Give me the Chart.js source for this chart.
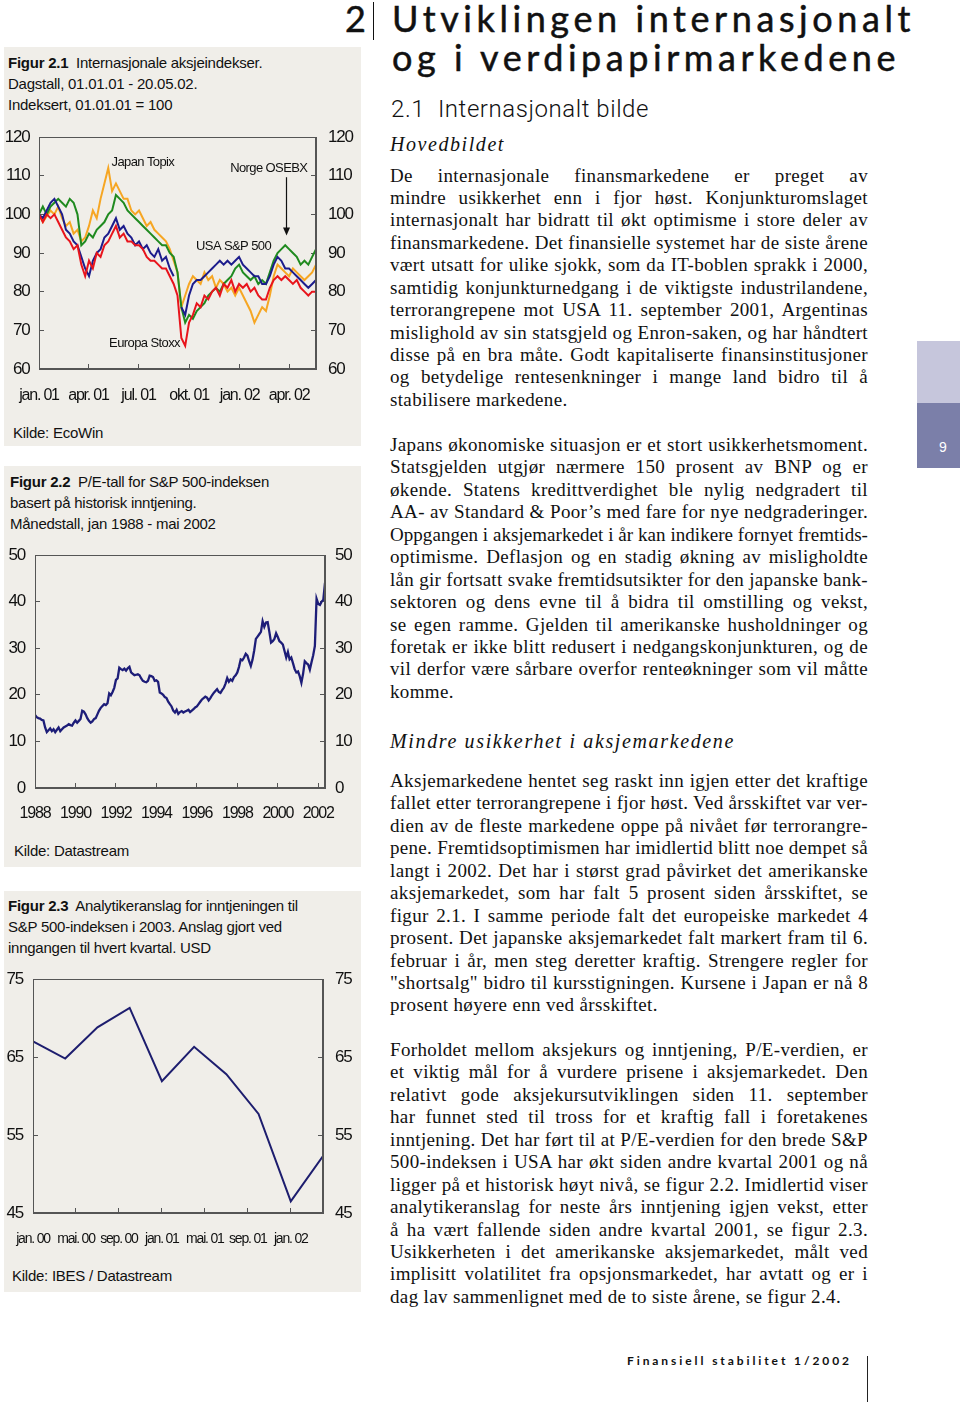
<!DOCTYPE html>
<html>
<head>
<meta charset="utf-8">
<script src="https://cdn.jsdelivr.net/npm/chart.js@4.4.1/dist/chart.umd.min.js"></script>
<style>
  body { margin: 0; background: #fff; }
  #page { position: relative; width: 960px; height: 1402px; overflow: hidden; background: #fff; }
  .panel { position: absolute; left: 4px; width: 357px; background: #f0eee9; }
  .cap { position: absolute; left: 8px; font: 15px 'Liberation Sans', Arial, sans-serif; letter-spacing: -0.25px; line-height: 21px; color: #111; white-space: nowrap; }
  canvas { position: absolute; left: 0; }
  .body { position: absolute; left: 390px; width: 478px; font: 19px 'Liberation Serif', serif; line-height: 22.45px; color: #111; }
  .body div { height: 22.45px; text-align: justify; text-align-last: justify; letter-spacing: 0.35px; }
  .body div.l { text-align: left; text-align-last: left; }
  .fit { position: absolute; white-space: nowrap; color: #111; }
  .big { font: 36px Lato, sans-serif; line-height: 36px; -webkit-text-stroke: 0.5px #111; }
</style>
</head>
<body>
<div id="page">

  <div class="fit big" style="left:345px;top:0px">2</div>
  <div style="position:absolute;left:373px;top:2px;width:1px;height:38px;background:#111"></div>
  <div class="fit big" data-w="523" style="left:392px;top:0px">Utviklingen internasjonalt</div>
  <div class="fit big" data-w="508" style="left:392px;top:39px">og i verdipapirmarkedene</div>
  <div class="fit" data-w="258" style="left:391px;top:97px;font:300 24px Roboto,sans-serif;line-height:24px">2.1&nbsp; Internasjonalt bilde</div>
  <div class="fit" data-w="115" style="left:390px;top:134px;font:italic 20px 'Liberation Serif',serif;line-height:20px">Hovedbildet</div>

  <div class="body" style="top:164.5px">
    <div>De internasjonale finansmarkedene er preget av</div>
    <div>mindre usikkerhet enn i fjor høst. Konjunkturomslaget</div>
    <div>internasjonalt har bidratt til økt optimisme i store deler av</div>
    <div>finansmarkedene. Det finansielle systemet har de siste årene</div>
    <div>vært utsatt for ulike sjokk, som da IT-boblen sprakk i 2000,</div>
    <div>samtidig konjunkturnedgang i de viktigste industrilandene,</div>
    <div>terrorangrepene mot USA 11. september 2001, Argentinas</div>
    <div>mislighold av sin statsgjeld og Enron-saken, og har håndtert</div>
    <div>disse på en bra måte. Godt kapitaliserte finansinstitusjoner</div>
    <div>og betydelige rentesenkninger i mange land bidro til å</div>
    <div class="l">stabilisere markedene.</div>
  </div>

  <div class="body" style="top:434px">
    <div>Japans økonomiske situasjon er et stort usikkerhetsmoment.</div>
    <div>Statsgjelden utgjør nærmere 150 prosent av BNP og er</div>
    <div>økende. Statens kredittverdighet ble nylig nedgradert til</div>
    <div>AA- av Standard &amp; Poor’s med fare for nye nedgraderinger.</div>
    <div>Oppgangen i aksjemarkedet i år kan indikere fornyet fremtids-</div>
    <div>optimisme. Deflasjon og en stadig økning av misligholdte</div>
    <div>lån gir fortsatt svake fremtidsutsikter for den japanske bank-</div>
    <div>sektoren og dens evne til å bidra til omstilling og vekst,</div>
    <div>se egen ramme. Gjelden til amerikanske husholdninger og</div>
    <div>foretak er ikke blitt redusert i nedgangskonjunkturen, og de</div>
    <div>vil derfor være sårbare overfor renteøkninger som vil måtte</div>
    <div class="l">komme.</div>
  </div>

  <div class="fit" data-w="345" style="left:390px;top:731px;font:italic 20px 'Liberation Serif',serif;line-height:20px">Mindre usikkerhet i aksjemarkedene</div>

  <div class="body" style="top:770px">
    <div>Aksjemarkedene hentet seg raskt inn igjen etter det kraftige</div>
    <div>fallet etter terrorangrepene i fjor høst. Ved årsskiftet var ver-</div>
    <div>dien av de fleste markedene oppe på nivået før terrorangre-</div>
    <div>pene. Fremtidsoptimismen har imidlertid blitt noe dempet så</div>
    <div>langt i 2002. Det har i størst grad påvirket det amerikanske</div>
    <div>aksjemarkedet, som har falt 5 prosent siden årsskiftet, se</div>
    <div>figur 2.1. I samme periode falt det europeiske markedet 4</div>
    <div>prosent. Det japanske aksjemarkedet falt markert fram til 6.</div>
    <div>februar i år, men steg deretter kraftig. Strengere regler for</div>
    <div>"shortsalg" bidro til kursstigningen. Kursene i Japan er nå 8</div>
    <div class="l">prosent høyere enn ved årsskiftet.</div>
  </div>

  <div class="body" style="top:1039px">
    <div>Forholdet mellom aksjekurs og inntjening, P/E-verdien, er</div>
    <div>et viktig mål for å vurdere prisene i aksjemarkedet. Den</div>
    <div>relativt gode aksjekursutviklingen siden 11. september</div>
    <div>har funnet sted til tross for et kraftig fall i foretakenes</div>
    <div>inntjening. Det har ført til at P/E-verdien for den brede S&amp;P</div>
    <div>500-indeksen i USA har økt siden andre kvartal 2001 og nå</div>
    <div>ligger på et historisk høyt nivå, se figur 2.2. Imidlertid viser</div>
    <div>analytikeranslag for neste års inntjening igjen vekst, etter</div>
    <div>å ha vært fallende siden andre kvartal 2001, se figur 2.3.</div>
    <div>Usikkerheten i det amerikanske aksjemarkedet, målt ved</div>
    <div>implisitt volatilitet fra opsjonsmarkedet, har avtatt og er i</div>
    <div class="l">dag lav sammenlignet med de to siste årene, se figur 2.4.</div>
  </div>

  <div style="position:absolute;left:917px;top:341px;width:43px;height:62px;background:#c6c6dc"></div>
  <div style="position:absolute;left:917px;top:403px;width:34px;padding-left:9px;height:65px;background:#7b7fa9;color:#fff;font:14px 'Liberation Sans',sans-serif;text-align:center;line-height:88px">9</div>

  <div class="fit" data-w="225" style="left:627px;top:1354px;font:bold 12px Lato,sans-serif;line-height:14px">Finansiell stabilitet 1/2002</div>
  <div style="position:absolute;left:867px;top:1356px;width:1px;height:46px;background:#222"></div>

  <div class="panel" style="top:47px;height:399px"></div>
  <div class="cap" style="top:51.5px"><b>Figur 2.1</b>&nbsp; Internasjonale aksjeindekser.<br>Dagstall, 01.01.01 - 20.05.02.<br>Indeksert, 01.01.01 = 100</div>
  <canvas id="c1" width="361" height="300" style="top:120px"></canvas>
  <div class="cap" style="top:421.5px;left:13px">Kilde: EcoWin</div>

  <div class="panel" style="top:466px;height:401px"></div>
  <div class="cap" style="top:470.5px;left:10px"><b>Figur 2.2</b>&nbsp; P/E-tall for S&amp;P 500-indeksen<br>basert på historisk inntjening.<br>Månedstall, jan 1988 - mai 2002</div>
  <canvas id="c2" width="361" height="300" style="top:535px"></canvas>
  <div class="cap" style="top:839.5px;left:14px">Kilde: Datastream</div>

  <div class="panel" style="top:891px;height:401px"></div>
  <div class="cap" style="top:894.5px"><b>Figur 2.3</b>&nbsp; Analytikeranslag for inntjeningen til<br>S&amp;P 500-indeksen i 2003. Anslag gjort ved<br>inngangen til hvert kvartal. USD</div>
  <canvas id="c3" width="361" height="300" style="top:960px"></canvas>
  <div class="cap" style="top:1264.5px;left:12px">Kilde: IBES / Datastream</div>
</div>

<script>
// Figur 2.1, weekly readings 01.01.01 - 20.05.02 (index, 01.01.01 = 100)
const japanTopix = [100, 98, 99.5, 101, 100, 102, 99, 97, 98, 95,
  96, 93, 94, 97, 101, 99, 104, 108, 112, 106,
  108, 106, 104, 104, 101, 100, 101, 99, 97, 98,
  96, 95, 94, 93, 91, 88, 85, 76, 79, 82,
  84, 83, 82, 85, 83, 84, 81, 83, 82, 80,
  81, 79, 81, 79, 77, 75, 72, 74, 76, 75,
  79, 84, 87, 86, 85, 84, 86, 85, 84, 83,
  84, 85, 87];
const europaStoxx = [100, 98, 100, 99, 100, 98, 96, 94, 93, 91,
  92, 87, 84, 88, 86, 90, 89, 92, 93, 95,
  97, 94, 95, 93, 93, 92, 92, 91, 89, 88,
  88, 87, 86, 86, 84, 82, 79, 68, 66, 72,
  74, 77, 76, 79, 78, 80, 81, 79, 82, 81,
  83, 80, 82, 81, 82, 80, 81, 79, 78, 78,
  81, 83, 84, 83, 84, 83, 82, 83, 81, 80,
  79, 80, 80];
const usaSP500 = [100, 99, 101, 103, 104, 102, 100, 96, 95, 93,
  92, 89, 86, 84, 88, 90, 91, 94, 95, 97,
  99, 96, 97, 95, 94, 92, 93, 91, 92, 90,
  89, 91, 88, 89, 86, 84, null, 76, 74, 79,
  82, 83, 83, 84, 85, 86, 87, 88, 87, 88,
  87, 88, 89, 87, 86, 85, 84, 84, 82, 82,
  84, 87, 89, 88, 86, 86, 85, 84, 83, 82,
  81, 82, 83];
const norgeOSEBX = [100, 102, 100, 102, 103, 104, 103, 102, 104, 103,
  100, 92, 93, 95, 94, 96, 97, 98, 100, 101,
  105, 104, 103, 101, 100, 99, 98, 97, 96, 95,
  94, 93, 92, 92, 90, 89, 85, 76, 72, 74,
  73, 75, 76, 77, 79, 80, 81, 80, 82, 83,
  84, 86, 87, 85, 84, 83, 84, 82, 83, 82,
  85, 88, 90, 91, 92, 91, 90, 89, 87, 88,
  87, 89, 91];
const fig1TickDays = [0, 90, 181, 273, 365, 455];
const fig1TickLabels = ['jan. 01', 'apr. 01', 'jul. 01', 'okt. 01', 'jan. 02', 'apr. 02'];

// Figur 2.2, monthly P/E jan 1988 - mai 2002
const peRatio = [
  15.7, 15.2, 15.0, 14.9, 14.6, 14.5, 13.0, 12.0, 12.4, 12.8, 12.2, 12.6,
  12.0, 12.5, 13.0, 12.2, 12.6, 13.0, 13.2, 13.4, 13.7, 13.5, 13.4, 14.0,
  14.5, 14.0, 14.4, 14.8, 16.6, 16.4, 15.8, 15.0, 14.4, 14.0, 14.3, 14.8,
  15.0, 15.8, 16.6, 17.2, 17.6, 18.0, 17.8, 18.2, 20.3, 19.9, 20.6, 21.5,
  23.2, 23.5, 25.8, 25.5, 25.3, 25.6, 25.2, 25.7, 26.0, 24.8, 24.5, 24.2,
  24.3, 24.4, 24.2, 23.5, 23.0, 22.8, 22.7, 23.0, 24.1, 24.0, 23.8, 23.0,
  23.1, 22.8, 20.5, 20.3, 20.0, 19.5, 19.3, 18.5, 18.0, 17.5, 16.6, 16.2,
  16.8, 15.9, 16.3, 16.5, 16.2, 16.4, 16.6, 16.8, 16.3, 16.6, 16.9, 17.3,
  17.5, 18.0, 18.5, 19.0, 19.3, 19.6, 19.4, 18.8, 19.3, 19.9, 20.4, 20.8,
  21.2, 20.6, 20.4, 21.0, 21.5, 22.4, 23.6, 22.8, 23.3, 23.0, 23.8, 24.2,
  24.8, 26.0, 27.6, 27.4, 28.0, 28.8, 28.4, 27.2, 26.2, 27.5, 29.5, 32.0,
  32.5, 33.0, 33.5, 35.8, 34.6, 35.5, 35.6, 33.5, 31.2, 31.5, 32.0, 33.2,
  32.4, 31.5, 31.2, 30.8, 29.4, 28.0, 29.2, 27.6, 28.0, 26.8, 25.5, 24.8,
  25.0, 24.0, 22.6, 24.5, 27.2, 26.8, 26.5, 25.4, 27.0, 28.5, 30.5, 40.6,
  39.5, 39.3, 40.0, 40.4, 44.0];
const peYears = [1988, 1990, 1992, 1994, 1996, 1998, 2000, 2002];

// Figur 2.3, quarterly estimates (months after jan. 00)
const estMonths = [0, 3, 6, 9, 12, 15, 18, 21, 24, 27];
const estUSD = [67.0, 64.8, 68.8, 71.3, 61.9, 66.3, 62.8, 57.7, 46.5, 52.3];
const fig3TickMonths = [0, 4, 8, 12, 16, 20, 24];
const fig3TickLabels = ['jan. 00', 'mai. 00', 'sep. 00', 'jan. 01', 'mai. 01', 'sep. 01', 'jan. 02'];

Chart.defaults.font.family = "'Liberation Sans', Arial, sans-serif";
Chart.defaults.color = '#111';

const AXIS = '#555';

const frame = {
  id: 'frame',
  afterDraw(chart) {
    const { ctx, chartArea: a } = chart;
    ctx.save();
    ctx.strokeStyle = AXIS;
    ctx.lineWidth = 1;
    ctx.strokeRect(Math.round(a.left) + 0.5, Math.round(a.top) + 0.5, Math.round(a.right - a.left) - 1, Math.round(a.bottom - a.top) - 1);
    ctx.restore();
  }
};

// squeeze the tick text a little, the printed charts use a condensed face
const narrow = {
  id: 'narrow',
  beforeDraw(chart, args, opts) { chart.ctx.letterSpacing = opts.spacing || '0px'; }
};

// fixed axis sizes, and no extra room for labels hanging over the ends
function noOverhang(s) {
  s.paddingLeft = 0; s.paddingRight = 0; s.paddingTop = 0; s.paddingBottom = 0;
}

function yAxis(position, min, max, step, pad, width) {
  return {
    type: 'linear', position, min, max,
    ticks: { stepSize: step, padding: pad, font: { size: 17 } },
    grid: { drawOnChartArea: false, tickLength: -5, color: AXIS },
    border: { color: AXIS },
    afterFit: s => { s.width = width; noOverhang(s); }
  };
}

function xAxis(min, max, vals, names, pad, height, size) {
  return {
    type: 'linear', min, max,
    afterBuildTicks: s => { s.ticks = vals.map(v => ({ value: v })); },
    ticks: { padding: pad, autoSkip: false, maxRotation: 0, font: { size },
      callback: (v, i) => names[i] },
    grid: { drawOnChartArea: false, tickLength: -5, color: AXIS },
    border: { color: AXIS },
    afterFit: s => { s.height = height; noOverhang(s); }
  };
}

function line(data, color, width) {
  return { data, borderColor: color, borderWidth: width, pointRadius: 0, tension: 0, fill: false, spanGaps: false };
}

const baseOptions = (top, spacing, scales) => ({
  responsive: false,
  animation: false,
  layout: { padding: { top, left: 0, right: 0, bottom: 0 } },
  plugins: { legend: { display: false }, tooltip: { enabled: false }, narrow: { spacing } },
  scales
});

// ---- Figur 2.1
const days = japanTopix.map((_, i) => i * 7);
const pts = arr => arr.map((v, i) => ({ x: days[i], y: v }));

const notes1 = [
  { text: 'Japan Topix', x: 189, y: 113.3 },
  { text: 'Norge OSEBX', x: 418, y: 112 },
  { text: 'USA S&P 500', x: 354, y: 91.8 },
  { text: 'Europa Stoxx', x: 192, y: 66.5 }
];
const arrow1 = { x: 449, from: 109.6, to: 94.5 };

const notesPlugin = {
  id: 'notes',
  afterDatasetsDraw(chart) {
    const { ctx, scales: { x, y } } = chart;
    ctx.save();
    ctx.fillStyle = '#111';
    ctx.strokeStyle = '#111';
    ctx.font = "13px 'Liberation Sans', Arial, sans-serif";
    ctx.letterSpacing = '-0.6px';
    ctx.textAlign = 'center';
    ctx.textBaseline = 'middle';
    notes1.forEach(n => ctx.fillText(n.text, x.getPixelForValue(n.x), y.getPixelForValue(n.y)));
    const ax = Math.round(x.getPixelForValue(arrow1.x)) + 0.5;
    const y0 = y.getPixelForValue(arrow1.from);
    const y1 = y.getPixelForValue(arrow1.to);
    ctx.lineWidth = 1.2;
    ctx.beginPath(); ctx.moveTo(ax, y0); ctx.lineTo(ax, y1 - 6); ctx.stroke();
    ctx.beginPath(); ctx.moveTo(ax - 3.5, y1 - 8); ctx.lineTo(ax + 3.5, y1 - 8); ctx.lineTo(ax, y1); ctx.closePath(); ctx.fill();
    ctx.restore();
  }
};

new Chart(document.getElementById('c1'), {
  type: 'line',
  data: {
    datasets: [
      line(pts(europaStoxx), '#e8141c', 2),
      line(pts(usaSP500), '#1c1c8c', 2),
      line(pts(norgeOSEBX), '#1f8a1f', 2),
      line(pts(japanTopix), '#f6a623', 2)
    ]
  },
  options: baseOptions(17, '-1.2px', {
    x: xAxis(0, 504, fig1TickDays, fig1TickLabels, 22.4, 51, 16),
    y: yAxis('left', 60, 120, 10, 14.5, 39),
    y2: yAxis('right', 60, 120, 10, 17, 45)
  }),
  plugins: [narrow, frame, notesPlugin]
});

// ---- Figur 2.2
new Chart(document.getElementById('c2'), {
  type: 'line',
  data: {
    datasets: [line(peRatio.map((v, i) => ({ x: 1988 + i / 12, y: v })), '#1d1d78', 2.3)]
  },
  options: baseOptions(20, '-1.2px', {
    x: xAxis(1988, 2002 + 4 / 12, peYears, peYears.map(String), 21.4, 47, 16),
    y: yAxis('left', 0, 50, 10, 15, 35),
    y2: yAxis('right', 0, 50, 10, 15, 36)
  }),
  plugins: [narrow, frame]
});

// ---- Figur 2.3
new Chart(document.getElementById('c3'), {
  type: 'line',
  data: {
    datasets: [line(estMonths.map((m, i) => ({ x: m, y: estUSD[i] })), '#1d1d6e', 2)]
  },
  options: baseOptions(19, '-1.2px', {
    x: xAxis(0, 27, fig3TickMonths, fig3TickLabels, 22.4, 47, 14),
    y: yAxis('left', 45, 75, 10, 15, 33),
    y2: yAxis('right', 45, 75, 10, 17, 38)
  }),
  plugins: [narrow, frame]
});

// fit the text lines to the widths of the printed page
function fitText() {
  document.querySelectorAll('.body div').forEach(d => {
    let ls = 0.35;
    while (d.scrollHeight > 30 && ls > -2) {
      ls -= 0.05;
      d.style.letterSpacing = ls + 'px';
    }
  });
  document.querySelectorAll('[data-w]').forEach(el => {
    el.style.letterSpacing = '0px';
    const w = el.getBoundingClientRect().width;
    const n = el.textContent.length;
    el.style.letterSpacing = ((+el.dataset.w - w) / n) + 'px';
  });
}
fitText();
</script>
</body>
</html>
